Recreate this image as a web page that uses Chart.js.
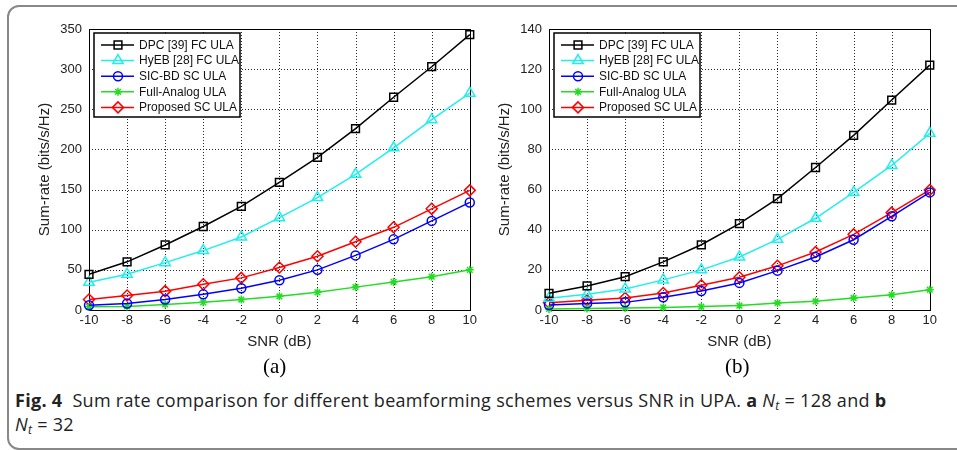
<!DOCTYPE html>
<html>
<head>
<meta charset="utf-8">
<script src="https://cdn.jsdelivr.net/npm/chart.js@4.4.0/dist/chart.umd.min.js"></script>
<style>
  body { margin: 0; background: #fff; width: 957px; height: 450px; overflow: hidden; position: relative; }
  #frame { position: absolute; left: 7px; top: 5px; width: 1000px; height: 441px; border: 2px solid #888; border-radius: 12px; }
  .box { position: absolute; top: 0; width: 480px; height: 355px; }
  .sub { position: absolute; top: 354px; font-family: "Liberation Serif", "DejaVu Serif", serif; font-size: 21px; }
  #caption { position: absolute; left: 15px; top: 388px; font-family: "Open Sans", "Noto Sans", sans-serif; font-size: 18px; letter-spacing: 0.3px; line-height: 24px; color: #222; white-space: nowrap; }
  #caption i { font-style: italic; }
  #caption sub { font-size: 12px; vertical-align: -3px; line-height: 0; }
</style>
</head>
<body>
<div id="frame"></div>
<div class="box" style="left:0"><canvas id="chartA"></canvas></div>
<div class="box" style="left:460px"><canvas id="chartB"></canvas></div>
<div class="sub" style="left:263px">(a)</div>
<div class="sub" style="left:725px">(b)</div>
<div id="caption"><b>Fig. 4</b>&nbsp; Sum rate comparison for different beamforming schemes versus SNR in UPA. <b>a</b> <i>N<sub>t</sub></i> = 128 and <b>b</b><br><i>N<sub>t</sub></i> = 32</div>
<script>
const snr = [-10, -8, -6, -4, -2, 0, 2, 4, 6, 8, 10];
const seriesNames = ["DPC [39] FC ULA", "HyEB [28] FC ULA", "SIC-BD SC ULA", "Full-Analog ULA", "Proposed SC ULA"];

// (a) Nt = 128
const dpcA      = [44.5, 60, 81, 104, 129, 159, 190, 226, 265, 303, 343];
const hyebA     = [34.5, 44.5, 59, 74, 91, 115, 140, 169, 202, 237, 270];
const sicA      = [6, 8, 13, 19.5, 27, 37, 50, 68, 88, 111, 134];
const analogA   = [4, 4.5, 7, 9.5, 13, 17, 22, 28.5, 35, 41.5, 50];
const proposedA = [13, 18, 23.5, 32, 40, 53, 67, 85, 103, 126, 149];

// (b) Nt = 32
const dpcB      = [8.3, 12, 16.6, 24, 32.5, 43, 55.5, 71, 87, 104.6, 122];
const hyebB     = [5.8, 7.8, 10.5, 15, 20, 26.4, 35.2, 45.7, 58.6, 72, 88];
const sicB      = [2.5, 3.3, 3.8, 6.3, 9.5, 13.5, 19.6, 26.4, 35, 46.7, 58.6];
const analogB   = [0.5, 0.8, 1, 1.3, 1.7, 2.2, 3.5, 4.3, 6, 7.6, 10.1];
const proposedB = [3.6, 4.8, 6, 8.5, 12.3, 16.3, 22, 28.9, 37.7, 48.5, 59.8];

const styles = [
  { color: "#000000", pointStyle: "rect", radius: 5.5 },
  { color: "#22eeee", pointStyle: "triangle", radius: 6 },
  { color: "#0000ff", pointStyle: "circle", radius: 4.5 },
  { color: "#22dd22", pointStyle: "star", radius: 4 },
  { color: "#ff0000", pointStyle: "rectRot", radius: 5.5 }
];

function makeDatasets(list) {
  return list.map((d, i) => ({
    label: seriesNames[i],
    data: d,
    borderColor: styles[i].color,
    backgroundColor: "rgba(0,0,0,0)",
    borderWidth: 1.5,
    pointStyle: styles[i].pointStyle,
    pointRadius: styles[i].radius,
    pointBorderWidth: 1.5,
    pointBackgroundColor: "rgba(0,0,0,0)",
    pointBorderColor: styles[i].color,
    tension: 0,
    clip: false
  }));
}

// MATLAB-style dotted grid, box and legend inside the axes
const frameAndLegend = {
  id: "frameAndLegend",
  beforeDatasetsDraw(chart) {
    const ctx = chart.ctx;
    const a = chart.chartArea;
    const xs = chart.scales.x, ys = chart.scales.y;
    ctx.save();
    ctx.strokeStyle = "rgba(0,0,0,0.85)";
    ctx.lineWidth = 1;
    ctx.setLineDash([1, 2]);
    xs.ticks.forEach(t => {
      const x = Math.round(xs.getPixelForValue(t.value)) + 0.5;
      ctx.beginPath(); ctx.moveTo(x, a.top); ctx.lineTo(x, a.bottom); ctx.stroke();
    });
    ys.ticks.forEach(t => {
      const y = Math.round(ys.getPixelForValue(t.value)) + 0.5;
      ctx.beginPath(); ctx.moveTo(a.left, y); ctx.lineTo(a.right, y); ctx.stroke();
    });
    ctx.setLineDash([]);
    ctx.strokeStyle = "#000";
    ctx.strokeRect(Math.round(a.left) + 0.5, Math.round(a.top) + 0.5, Math.round(a.right - a.left), Math.round(a.bottom - a.top));
    ctx.restore();
  },
  afterDraw(chart) {
    const ctx = chart.ctx;
    const a = chart.chartArea;
    ctx.save();
    const bx = Math.round(a.left) + 5, by = Math.round(a.top) + 4, bw = 146, bh = 84;
    ctx.fillStyle = "#fff";
    ctx.fillRect(bx, by, bw, bh);
    ctx.strokeStyle = "#000";
    ctx.lineWidth = 1.5;
    ctx.strokeRect(bx, by, bw, bh);
    ctx.font = "12px 'Liberation Sans', Arial, sans-serif";
    ctx.textBaseline = "middle";
    chart.data.datasets.forEach((ds, i) => {
      const y = by + 12 + i * 15.6;
      ctx.strokeStyle = ds.borderColor;
      ctx.lineWidth = 1.5;
      ctx.beginPath();
      ctx.moveTo(bx + 7, y);
      ctx.lineTo(bx + 40, y);
      ctx.stroke();
      ctx.fillStyle = "rgba(0,0,0,0)";
      Chart.helpers.drawPoint(ctx, {
        pointStyle: ds.pointStyle, radius: ds.pointRadius, borderWidth: 1.5, rotation: 0
      }, bx + 24, y);
      ctx.fillStyle = "#111";
      ctx.fillText(ds.label, bx + 45, y + 0.5);
    });
    ctx.restore();
  }
};

function makeChart(id, list, yMax, yStep) {
  return new Chart(id, {
    type: "line",
    data: { labels: snr, datasets: makeDatasets(list) },
    options: {
      responsive: true,
      maintainAspectRatio: false,
      animation: false,
      layout: { padding: { left: 32, top: 29, right: 8, bottom: 0 } },
      plugins: { legend: { display: false }, tooltip: { enabled: false } },
      scales: {
        x: {
          type: "linear",
          min: -10, max: 10,
          afterFit(s) { s.height = 45; },
          ticks: { stepSize: 2, padding: 3, color: "#222", font: { family: "'Liberation Sans', Arial", size: 13 } },
          grid: { display: false, drawTicks: false },
          border: { display: false },
          title: { display: true, text: "SNR (dB)", color: "#222", padding: { top: 0, bottom: 4 }, font: { family: "'Liberation Sans', Arial", size: 15 } }
        },
        y: {
          min: 0, max: yMax,
          afterFit(s) { s.width = 57; },
          ticks: { stepSize: yStep, padding: 7, color: "#222", font: { family: "'Liberation Sans', Arial", size: 13 } },
          grid: { display: false, drawTicks: false },
          border: { display: false },
          title: { display: true, text: "Sum-rate (bits/s/Hz)", color: "#222", padding: { top: 4, bottom: 0 }, font: { family: "'Liberation Sans', Arial", size: 15 } }
        }
      }
    },
    plugins: [frameAndLegend]
  });
}

makeChart("chartA", [dpcA, hyebA, sicA, analogA, proposedA], 350, 50);
makeChart("chartB", [dpcB, hyebB, sicB, analogB, proposedB], 140, 20);
</script>
</body>
</html>
